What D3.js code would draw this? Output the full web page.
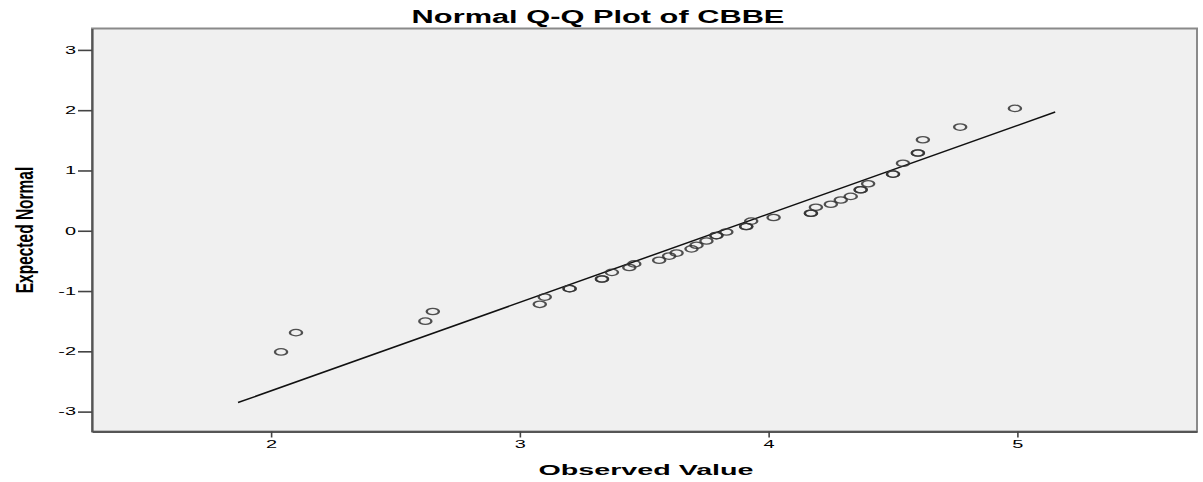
<!DOCTYPE html>
<html>
<head>
<meta charset="utf-8">
<script src="https://cdn.jsdelivr.net/npm/d3@7"></script>
<style>
body { margin: 0; background: #fff; }
svg { display: block; }
text { font-family: "Liberation Sans", Arial, sans-serif; fill: #000; }
</style>
</head>
<body>
<div id="chart"></div>
<script>
var observed = [2.04, 2.10, 2.62, 2.65, 3.08, 3.10, 3.20, 3.20, 3.33, 3.33, 3.37, 3.44, 3.46,
	3.56, 3.60, 3.63, 3.69, 3.71, 3.75, 3.79, 3.79, 3.83, 3.91, 3.91, 3.93, 4.02,
	4.17, 4.17, 4.19, 4.25, 4.29, 4.33, 4.37, 4.37, 4.40, 4.50, 4.50, 4.54, 4.60, 4.60,
	4.62, 4.77, 4.99];
var expected = [-2.01, -1.69, -1.50, -1.34, -1.22, -1.10, -0.96, -0.96, -0.80, -0.80, -0.69, -0.61, -0.55,
	-0.49, -0.42, -0.37, -0.30, -0.24, -0.17, -0.08, -0.08, -0.02, 0.07, 0.07, 0.16, 0.22,
	0.29, 0.29, 0.39, 0.44, 0.51, 0.57, 0.68, 0.68, 0.78, 0.94, 0.94, 1.12, 1.29, 1.29,
	1.51, 1.72, 2.03];

// reference line end points
var lineX = [1.867, 5.152];
var lineY = [-2.85, 1.97];

var xTicks = [2, 3, 4, 5];
var yTicks = [-3, -2, -1, 0, 1, 2, 3];
var xDomain = [1.28, 5.722];
var yDomain = [-3.33, 3.355];

var title = "Normal Q-Q Plot of CBBE";
var xTitle = "Observed Value";
var yTitle = "Expected Normal";

var width = 1203;
var height = 482;
var plot = { left: 92, right: 1197, top: 28.5, bottom: 431.5 };
var stretchK = 1.9; // the picture is widened, text and dots with it

var svg = d3.select("#chart")
	.append("svg")
	.attr("width", width)
	.attr("height", height);

var x = d3.scaleLinear().domain(xDomain).range([plot.left, plot.right]);
var y = d3.scaleLinear().domain(yDomain).range([plot.bottom, plot.top]);

var fmt = function(d) { return String(d); }; // plain hyphen minus, like the original

// plot background and frame
svg.append("rect")
	.attr("x", plot.left)
	.attr("y", plot.top)
	.attr("width", plot.right - plot.left)
	.attr("height", plot.bottom - plot.top)
	.attr("fill", "#f0f0f0")
	.attr("stroke", "#8a8a8a")
	.attr("stroke-width", 2);

// axes
var yAxis = svg.append("g")
	.attr("transform", "translate(" + plot.left + ",0)")
	.call(d3.axisLeft(y).tickValues(yTicks).tickFormat(fmt).tickSize(14).tickSizeOuter(0).tickPadding(2));

var xAxis = svg.append("g")
	.attr("transform", "translate(0," + plot.bottom + ")")
	.call(d3.axisBottom(x).tickValues(xTicks).tickFormat(fmt).tickSize(6).tickSizeOuter(0).tickPadding(3));

[xAxis, yAxis].forEach(function(ax) {
	ax.select(".domain").attr("stroke", "#555").attr("stroke-width", 2.2);
	ax.selectAll(".tick line").attr("stroke", "#444").attr("stroke-width", 1.6);
	ax.selectAll(".tick text")
		.attr("font-size", 10.5)
		.attr("fill", "#222")
		.style("font-family", "'Liberation Sans', Arial, sans-serif");
});

yAxis.selectAll(".tick text")
	.attr("x", -16 / stretchK)
	.attr("transform", "scale(" + stretchK + ",1)");
xAxis.selectAll(".tick text")
	.attr("transform", "scale(" + stretchK + ",1)");

// reference line
var refLine = lineX.map(function(d, i) { return { x: d, y: lineY[i] }; });
svg.append("path")
	.datum(refLine)
	.attr("d", d3.line().x(function(d) { return x(d.x); }).y(function(d) { return y(d.y); }))
	.attr("stroke", "#111")
	.attr("stroke-width", 1.5)
	.attr("fill", "none");

// points
var pts = observed.map(function(d, i) { return { x: d, y: expected[i] }; });
svg.append("g")
	.selectAll("circle")
	.data(pts)
	.enter()
	.append("circle")
	.attr("transform", function(d) { return "translate(" + x(d.x) + "," + y(d.y) + ") scale(" + stretchK + ",1)"; })
	.attr("r", 3.2)
	.attr("fill", "none")
	.attr("stroke", "#333")
	.attr("stroke-width", 1.25)
	.attr("stroke-opacity", 0.85);

// titles
svg.append("text")
	.attr("transform", "translate(598,23) scale(1.76,1)")
	.attr("text-anchor", "middle")
	.attr("font-size", 17.5)
	.attr("font-weight", "bold")
	.text(title);

svg.append("text")
	.attr("transform", "translate(646,475) scale(1.85,1)")
	.attr("text-anchor", "middle")
	.attr("font-size", 15.5)
	.attr("font-weight", "bold")
	.text(xTitle);

svg.append("text")
	.attr("transform", "translate(24," + ((plot.top + plot.bottom) / 2) + ") scale(1.6,1) rotate(-90)")
	.attr("text-anchor", "middle")
	.attr("dominant-baseline", "central")
	.attr("font-size", 15.5)
	.attr("font-weight", "bold")
	.text(yTitle);
</script>
</body>
</html>
